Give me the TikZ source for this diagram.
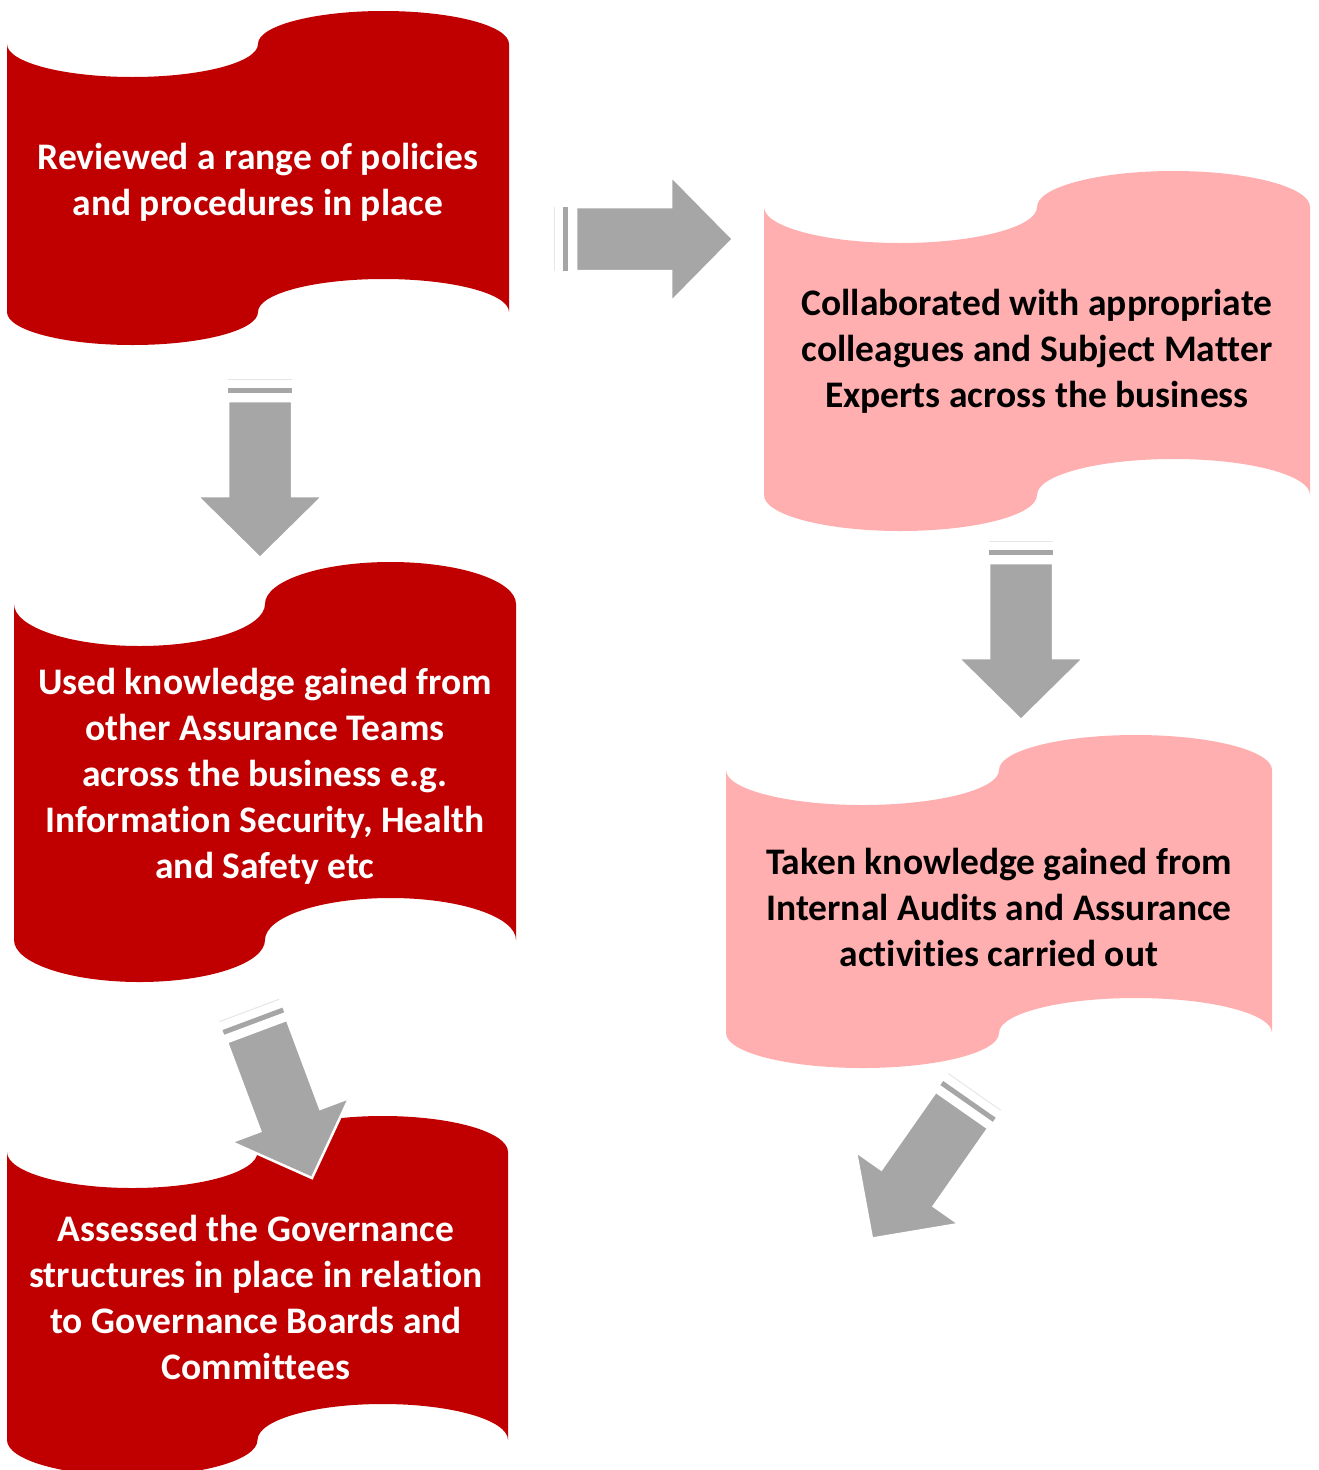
\documentclass[tikz,border=0pt]{standalone}
\usepackage{fontspec}
\setmainfont[Ligatures={NoCommon}]{Carlito}
\definecolor{dred}{HTML}{C00000}
\definecolor{lpink}{HTML}{FFAFAF}
\definecolor{agray}{HTML}{A6A6A6}
\definecolor{faintgray}{HTML}{E6E6E6}

\newcommand{\wavebox}[6]{%
  \pgfmathsetmacro{\wrx}{(#2-#1)/4}%
  \pgfmathsetmacro{\wxm}{(#1+#2)/2}%
  \pgfmathsetmacro{\wkx}{0.5523*\wrx}%
  \pgfmathsetmacro{\wka}{0.5523*#5}%
  \fill[#6] (#1,#3)
    .. controls +(0,\wka) and +(-\wkx,0) .. (#1+\wrx,#3+#5)
    .. controls +(\wkx,0) and +(0,\wka) .. (\wxm,#3)
    .. controls +(0,-\wka) and +(-\wkx,0) .. (\wxm+\wrx,#3-#5)
    .. controls +(\wkx,0) and +(0,-\wka) .. (#2,#3)
    -- (#2,#4)
    .. controls +(0,-\wka) and +(\wkx,0) .. (#2-\wrx,#4-#5)
    .. controls +(-\wkx,0) and +(0,-\wka) .. (\wxm,#4)
    .. controls +(0,\wka) and +(\wkx,0) .. (#1+\wrx,#4+#5)
    .. controls +(-\wkx,0) and +(0,\wka) .. (#1,#4)
    -- cycle;
}

\newcommand{\blockarrow}[3]{%
  \begin{scope}[shift={(#1,#2)}, rotate=#3]
    \draw[faintline] (-32,-22) -- (32,-22);
    \fill[agray] (-32,-13) rectangle (32,-8);
    \filldraw[arrowbody] (-32,0) -- (32,0) -- (32,95) -- (63,95) -- (0,157)
      -- (-63,95) -- (-32,95) -- cycle;
  \end{scope}
}

\tikzset{
  faintline/.style={draw=faintgray, line width=1pt},
  arrowbody/.style={fill=agray, draw=white, line width=2.5pt, line join=miter},
  wtxt/.style={text=white, align=center, font=\fontsize{37.5}{46}\selectfont\bfseries, inner sep=0pt},
  btxt/.style={text=black, align=center, font=\fontsize{37.5}{46}\selectfont\bfseries, inner sep=0pt},
}

\begin{document}
\begin{tikzpicture}[x=1pt, y=-1pt]
\useasboundingbox (0,0) rectangle (1318,1470);

% boxes
\wavebox{7}{509}{44}{312}{33}{dred}
\wavebox{764}{1310}{207}{495}{36}{lpink}
\wavebox{14}{516}{604}{940}{42}{dred}
\wavebox{726}{1272}{770}{1033}{35}{lpink}
\wavebox{7}{508}{1152}{1440}{36}{dred}

% texts
\node[wtxt] (t1) at (258,182) {Reviewed a range of policies\\and procedures in place};
\node[btxt] (t2) at (1037,351) {Collaborated with appropriate\\colleagues and Subject Matter\\Experts across the business};
\node[wtxt] (t3) at (265,776) {Used knowledge gained from\\other Assurance Teams\\across the business e.g.\\Information Security, Health\\and Safety etc};
\node[btxt] (t4) at (999,907) {Taken knowledge gained from\\Internal Audits and Assurance\\activities carried out};
\node[wtxt] (t5) at (256,1297) {Assessed the Governance\\structures in place in relation\\to Governance Boards and\\Committees};

% arrows
\blockarrow{576}{239}{90}
\blockarrow{260}{401}{0}
\blockarrow{1021}{563}{0}
\blockarrow{257}{1031}{20.5}
\blockarrow{962}{1110}{-35}
\end{tikzpicture}
\end{document}
